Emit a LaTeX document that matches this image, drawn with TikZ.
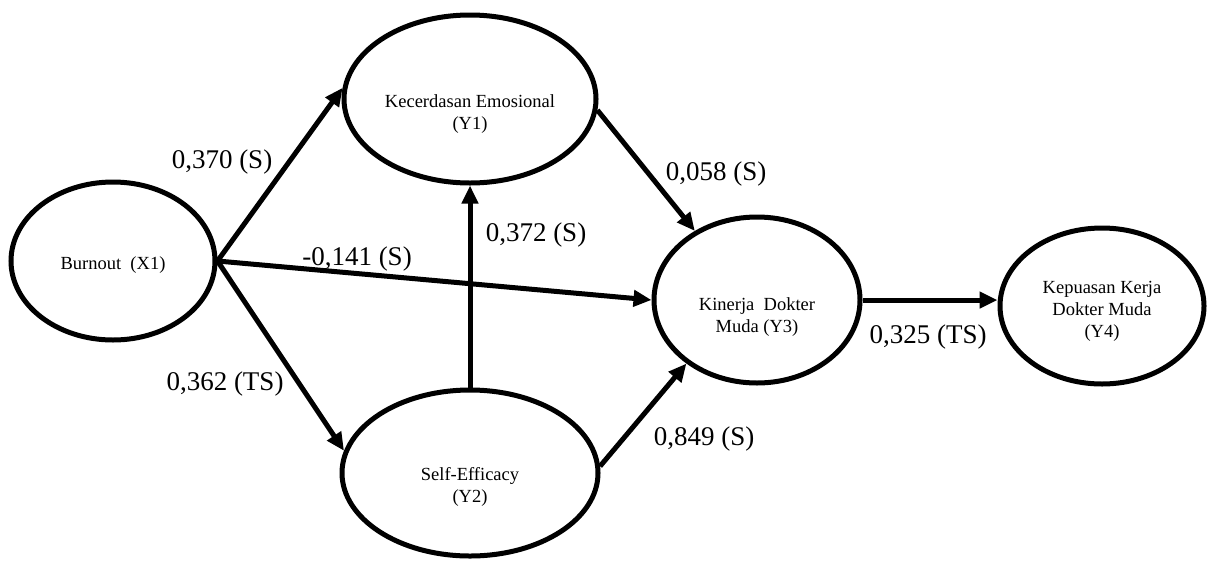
\documentclass[tikz,border=0pt]{standalone}
\usepackage{fontspec}
\setmainfont{Liberation Serif}
\usetikzlibrary{shapes.geometric,arrows.meta}

\begin{document}
\begin{tikzpicture}[x=1pt,y=-1pt,
    var/.style={draw,ellipse,line width=5pt,inner sep=0pt,align=center,
        font=\fontsize{18.5}{22}\selectfont},
    coef/.style={font=\fontsize{27}{30}\selectfont},
    >={Triangle[length=18pt,width=16pt]}]
        \useasboundingbox (0,0) rectangle (1209,563);

        % variables
        \node[var,minimum width=204pt,minimum height=158pt,text height=20.6pt] (bur) at (113,261) {Burnout~ (X1)};
        \node[var,minimum width=252pt,minimum height=168pt,text height=64.6pt] (kec) at (470,99) {Kecerdasan Emosional\\(Y1)};
        \node[var,minimum width=256pt,minimum height=166pt,text height=62.6pt] (self) at (470,473) {Self-Efficacy\\(Y2)};
        \node[var,minimum width=206pt,minimum height=166pt,text height=68.6pt] (kin) at (757,300) {Kinerja~ Dokter\\Muda (Y3)};
        \node[var,minimum width=204pt,minimum height=156pt,text height=66.6pt] (kep) at (1102,306) {Kepuasan Kerja\\Dokter Muda\\(Y4)};

        % paths
        \draw[->,line width=5pt] (bur.east) -- (kec.175);
        \draw[->,line width=5pt] (bur.east) -- (kin.west);
        \draw[->,line width=5pt] (bur.east) -- (self.170);
        \draw[->,line width=5pt] (self.north) -- (kec.south);
        \draw[->,line width=5pt] (kec.-5) -- (kin.132);
        \draw[->,line width=5pt] (self.3) -- (kin.222);
        \draw[->,line width=5pt] (kin.east) -- (kin.east -| kep.west);

        % coefficients
        \node[coef] (c1) at (222,162) {0,370 (S)};
        \node[coef] (c2) at (357,259) {-0,141 (S)};
        \node[coef] (c3) at (536,235) {0,372 (S)};
        \node[coef] (c4) at (716,174) {0,058 (S)};
        \node[coef] (c5) at (225,384) {0,362 (TS)};
        \node[coef] (c6) at (704,439) {0,849 (S)};
        \node[coef] (c7) at (928,337) {0,325 (TS)};
    \end{tikzpicture}
\end{document}
